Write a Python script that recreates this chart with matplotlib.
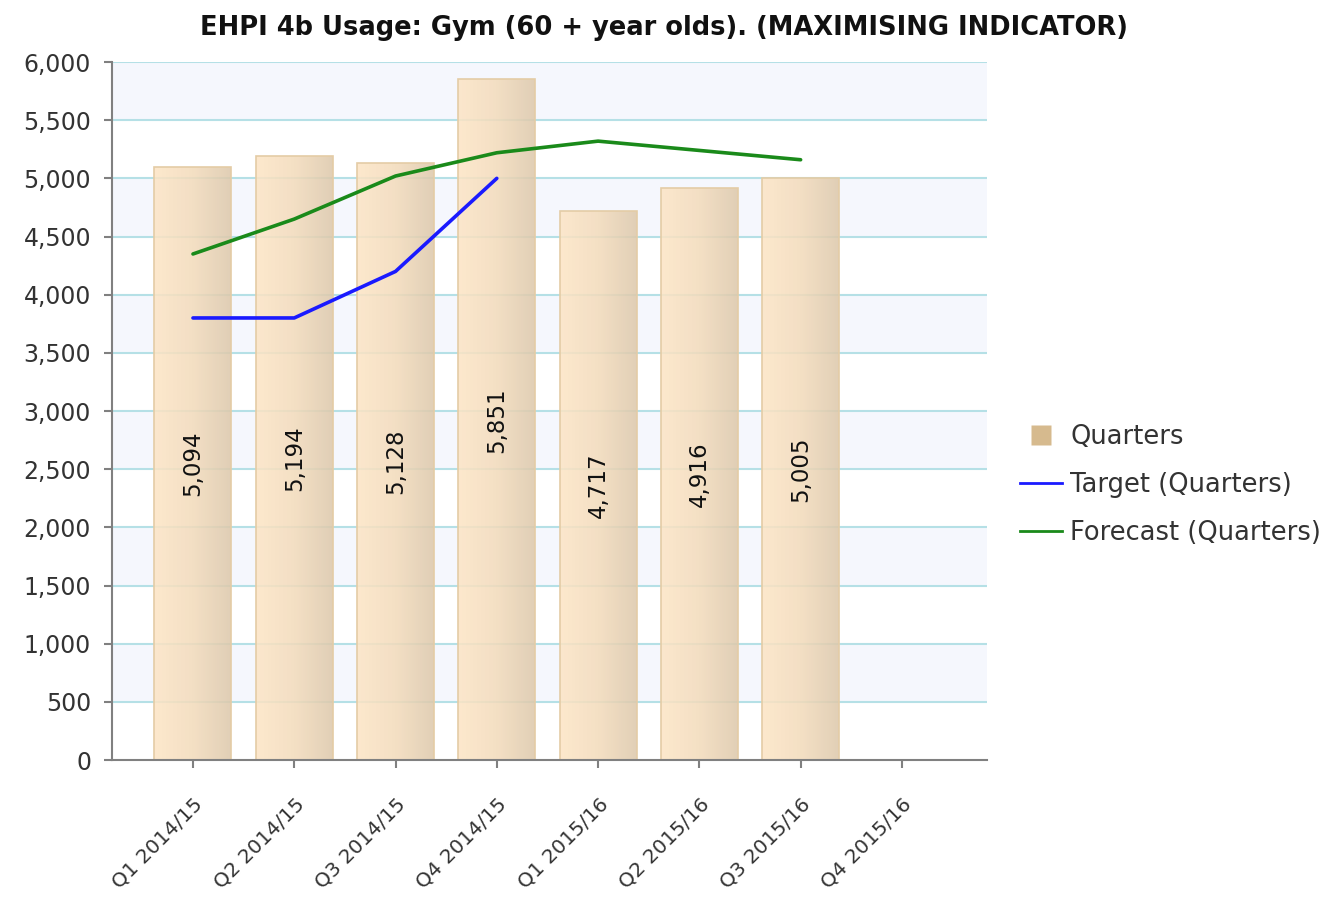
import matplotlib
matplotlib.use("Agg")
import matplotlib.pyplot as plt
import matplotlib.transforms as mtransforms
import numpy as np
from matplotlib.colors import LinearSegmentedColormap
from matplotlib.lines import Line2D

categories = ["Q1 2014/15", "Q2 2014/15", "Q3 2014/15", "Q4 2014/15",
              "Q1 2015/16", "Q2 2015/16", "Q3 2015/16", "Q4 2015/16"]
quarters = [5094, 5194, 5128, 5851, 4717, 4916, 5005]
target = [3800, 3800, 4200, 5000]
forecast = [4350, 4650, 5020, 5220, 5320, 5240, 5160]

fig = plt.figure(figsize=(13.28, 8.99), dpi=100)
ax = fig.add_axes([0.0843, 0.1546, 0.6589, 0.7764])

ax.set_xlim(-0.8, 7.84)
ax.set_ylim(0, 6000)

# alternating bands
for lo in range(0, 6000, 500):
    if (lo // 500) % 2 == 1:
        ax.axhspan(lo, lo + 500, color="#f5f7fd", zorder=0, lw=0)
for v in range(500, 6001, 500):
    ax.axhline(v, color="#b5e0e6", lw=1.5, zorder=0.5)

x = np.arange(len(quarters))
bars = ax.bar(x, quarters, width=0.76, color="none", edgecolor="#e4cca6",
              linewidth=1.2, zorder=2)
cmap = LinearSegmentedColormap.from_list("g", ["#fde5c5", "#f3dbbb", "#ddc8ab"])
grad = np.linspace(0, 1, 256).reshape(1, -1)
for b in bars:
    x0, y0 = b.get_x(), b.get_y()
    w, h = b.get_width(), b.get_height()
    im = ax.imshow(grad, cmap=cmap, extent=[x0, x0 + w, y0, y0 + h],
                   aspect="auto", zorder=1.5, alpha=0.86, interpolation="bilinear")
    im.set_clip_path(b)
for i, v in enumerate(quarters):
    ax.text(i, v / 2, f"{v:,}", rotation=90, ha="center", va="center",
            fontsize=16.5, color="#111111", zorder=4)

ax.plot(np.arange(len(target)), target, color="#1a1aff", lw=2.6, zorder=3,
        solid_capstyle="round")
ax.plot(np.arange(len(forecast)), forecast, color="#1a8a1a", lw=2.6, zorder=3,
        solid_capstyle="round")

ax.set_yticks(range(0, 6001, 500))
ax.set_yticklabels([f"{v:,}" for v in range(0, 6001, 500)])
ax.set_xticks(np.arange(len(categories)))
ax.set_xticklabels(categories, rotation=45, ha="right", va="center",
                   rotation_mode="anchor")

for s in ["top", "right"]:
    ax.spines[s].set_visible(False)
for s in ["left", "bottom"]:
    ax.spines[s].set_color("#808080")
    ax.spines[s].set_linewidth(1.5)
ax.tick_params(axis="y", labelsize=17, colors="#808080", labelcolor="#333333",
               length=6, width=1.5, pad=9)
ax.tick_params(axis="x", labelsize=14.5, colors="#808080", labelcolor="#333333",
               length=6, width=1.5, pad=24)
offset = mtransforms.ScaledTranslation(0.07, 0, fig.dpi_scale_trans)
for lbl in ax.get_xticklabels():
    lbl.set_transform(lbl.get_transform() + offset)

fig.suptitle("EHPI 4b Usage: Gym (60 + year olds). (MAXIMISING INDICATOR)",
             x=0.5, y=0.983, fontsize=18.5, fontweight="bold", color="#111111")

handles = [Line2D([0], [0], color="none", marker="s", markersize=15,
                  markerfacecolor="#d6ba8e", markeredgecolor="none"),
           Line2D([0], [0], color="#1a1aff", lw=2),
           Line2D([0], [0], color="#1a8a1a", lw=2)]
labels = ["Quarters", "Target (Quarters)", "Forecast (Quarters)"]
fig.legend(handles, labels, loc="center left", bbox_to_anchor=(0.768, 0.4605),
           frameon=False, fontsize=18.5, labelcolor="#333333", handlelength=1.65,
           handletextpad=0.3, labelspacing=0.86, borderpad=0, borderaxespad=0)

fig.savefig("out.png", dpi=100)
